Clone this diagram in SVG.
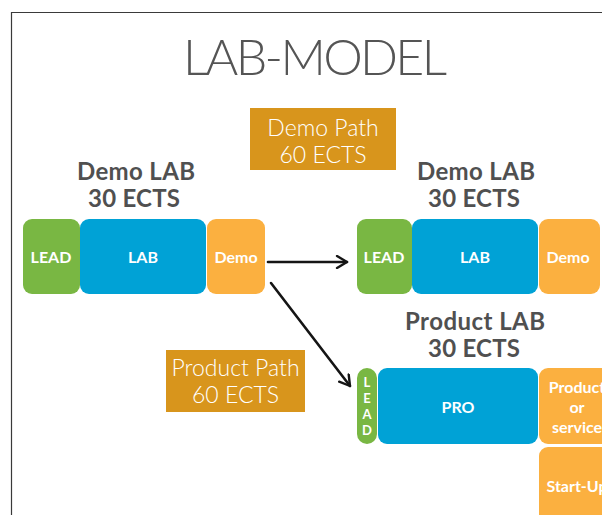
<svg xmlns="http://www.w3.org/2000/svg" width="602" height="515" viewBox="0 0 602 515">
<defs>
<style>
.frame{fill:none;stroke:#3a3a3a;stroke-width:1.2}
.title{font-family:Lato,"Liberation Sans",sans-serif;font-weight:300;font-size:50px;fill:#555}
.path{fill:#D8951C}
.pt{font-family:Lato,"Liberation Sans",sans-serif;font-weight:300;font-size:23px;fill:#fff;text-anchor:middle}
.lbl{font-family:Lato,"Liberation Sans",sans-serif;font-weight:700;font-size:24px;fill:#505050;text-anchor:middle}
.g{fill:#79B743}
.b{fill:#00A2D6}
.o{fill:#FBB040}
.bt{font-family:Lato,"Liberation Sans",sans-serif;font-weight:700;font-size:16px;fill:#fff;text-anchor:middle}
.st{font-family:Lato,"Liberation Sans",sans-serif;font-weight:700;font-size:13px;fill:#fff;text-anchor:middle}
.arr{fill:none;stroke:#151515;stroke-width:2.6;stroke-linecap:round}
</style>
<marker id="ah" viewBox="0 0 14 14" refX="12" refY="7" markerWidth="14" markerHeight="14" markerUnits="userSpaceOnUse" orient="auto">
<path d="M2,1 L12,7 L2,13" fill="none" stroke="#151515" stroke-width="2.4" stroke-linecap="round" stroke-linejoin="round"/>
</marker>
</defs>
<rect width="602" height="515" fill="#fff"/>
<path class="frame" d="M11.5,515 V12.5 H602"/>
<text class="title" x="183" y="75" textLength="264">LAB-MODEL</text>

<g id="demo-path">
<rect class="path" x="250" y="108" width="146" height="62"/>
<text class="pt" x="323" y="136">Demo Path</text>
<text class="pt" x="323" y="163">60 ECTS</text>
</g>

<g id="product-path">
<rect class="path" x="166" y="350" width="139" height="62"/>
<text class="pt" x="235.5" y="376">Product Path</text>
<text class="pt" x="235.5" y="403">60 ECTS</text>
</g>

<g id="demo-lab-1">
<text class="lbl" x="136" y="180" textLength="118">Demo LAB</text>
<text class="lbl" x="134" y="207" textLength="92">30 ECTS</text>
<rect class="g" x="23" y="219" width="57" height="75" rx="9"/>
<rect class="b" x="80" y="219" width="126" height="75" rx="9"/>
<rect class="o" x="207" y="219" width="58" height="75" rx="9"/>
<text class="bt" x="51" y="263">LEAD</text>
<text class="bt" x="143" y="263">LAB</text>
<text class="bt" x="236" y="263">Demo</text>
</g>

<g id="demo-lab-2">
<text class="lbl" x="476" y="180" textLength="118">Demo LAB</text>
<text class="lbl" x="474" y="207" textLength="92">30 ECTS</text>
<rect class="g" x="357" y="219" width="55" height="75" rx="9"/>
<rect class="b" x="412" y="219" width="126" height="75" rx="9"/>
<rect class="o" x="539" y="219" width="61" height="75" rx="9"/>
<text class="bt" x="384" y="263">LEAD</text>
<text class="bt" x="475" y="263">LAB</text>
<text class="bt" x="568" y="263">Demo</text>
</g>

<g id="product-lab">
<text class="lbl" x="475" y="330" textLength="140">Product LAB</text>
<text class="lbl" x="474" y="357" textLength="92">30 ECTS</text>
<rect class="g" x="357" y="368" width="20" height="76" rx="10"/>
<text class="st" x="367" y="387">L</text>
<text class="st" x="367" y="403">E</text>
<text class="st" x="367" y="419">A</text>
<text class="st" x="367" y="435">D</text>
<rect class="b" x="378" y="368" width="160" height="76" rx="9"/>
<text class="bt" x="458" y="413">PRO</text>
<rect class="o" x="539" y="368" width="80" height="76" rx="9"/>
<text class="bt" x="577" y="393">Product</text>
<text class="bt" x="577" y="413">or</text>
<text class="bt" x="577" y="433">service</text>
<rect class="o" x="539" y="447" width="80" height="80" rx="9"/>
<text class="bt" x="577" y="492">Start-Up</text>
</g>

<g id="connectors">
<path class="arr" d="M268,262 L347,262" marker-end="url(#ah)"/>
<path class="arr" d="M271,283 L350,386" marker-end="url(#ah)"/>
</g>
</svg>
